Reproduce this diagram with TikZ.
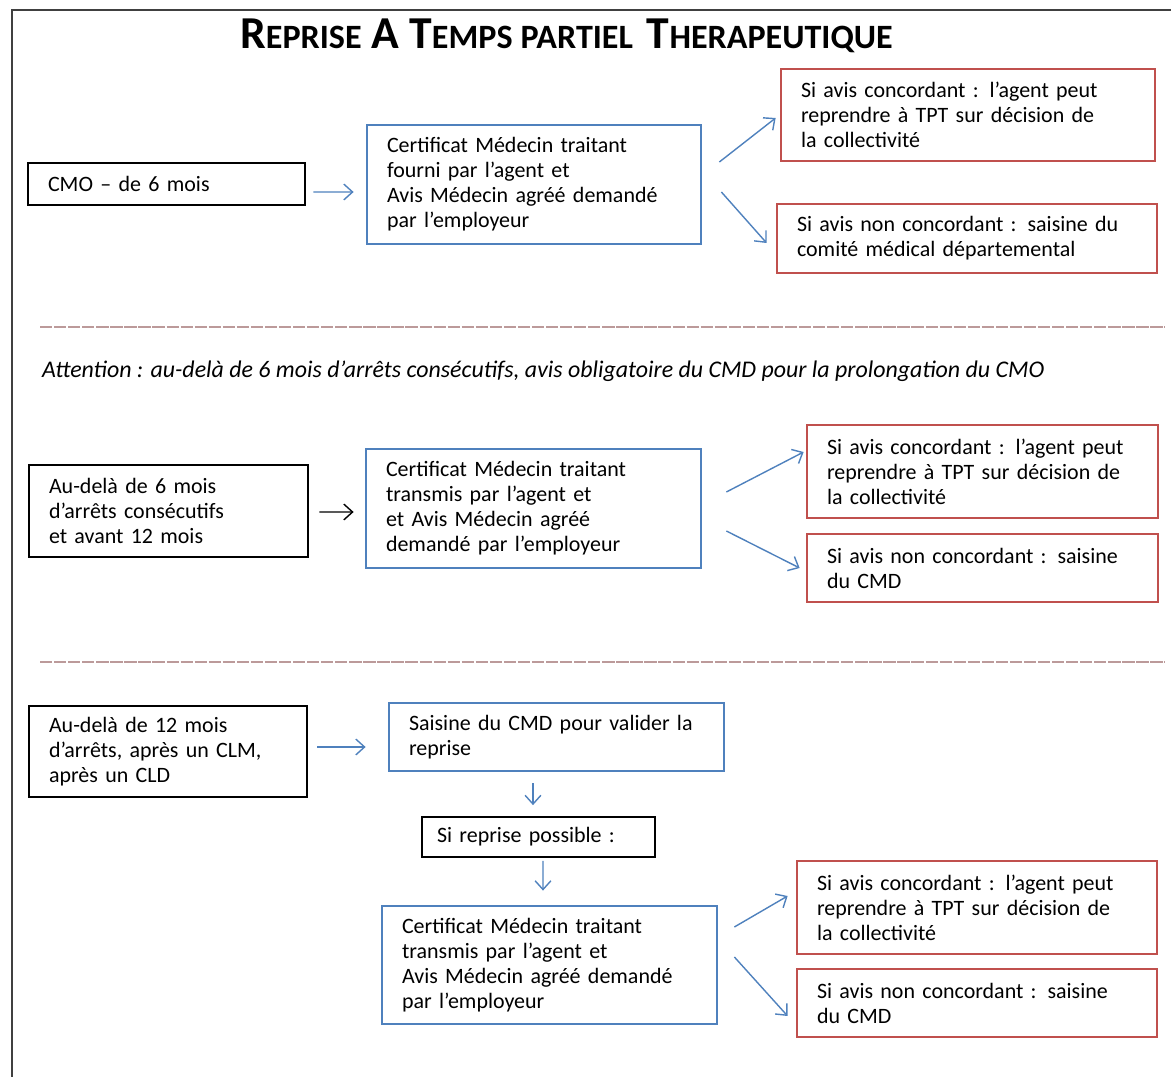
\documentclass[tikz,border=0pt]{standalone}
\usepackage{fontspec}
\setmainfont{Carlito}
\usepackage{xcolor}
\usepackage{tikz}
\usetikzlibrary{positioning, arrows.meta, calc}
\definecolor{bBlue}{HTML}{4F81BD}
\definecolor{rRed}{HTML}{C0504D}
\definecolor{fInk}{HTML}{404040}
\definecolor{dSep}{HTML}{BC9A9A}
\newcommand{\bigsc}[2]{{\fontsize{26}{26}\selectfont #1}{\fontsize{19.4}{19.4}\selectfont #2}}
\begin{document}
\begin{tikzpicture}[x=0.02cm, y=-0.02cm, >={Straight Barb[length=5pt,width=9pt]},
          box/.style={very thick, align=left, inner xsep=0.4cm, inner ysep=2pt,
            font=\fontsize{12.5}{14.2}\selectfont},
          blk/.style={box, draw=black, line width=1.6pt},
          bbox/.style={box, draw=bBlue, line width=1.6pt},
          rbox/.style={box, draw=rRed, line width=1.6pt},
          arr/.style={->, bBlue, line width=0.8pt},
          karr/.style={->, black, line width=0.8pt},
          sep/.style={dSep, line width=0.7pt, dash pattern=on 7pt off 1pt}]
        \useasboundingbox (0,0) rectangle (1171,1077);
        \draw[fInk, line width=1.3pt] (12,1077) -- (12,10) -- (1171,10);
        \node[font=\bfseries] (title) at (566.5,36)
          {\bigsc{R}{EPRISE}\hspace{0.2cm}\bigsc{A}{}\hspace{0.2cm}\bigsc{T}{EMPS}\hspace{0.16cm}\bigsc{}{PARTIEL}\hspace{0.28cm}\bigsc{T}{HERAPEUTIQUE}};
        % moins de 6 mois
        \node[blk, text width=4.74cm, minimum height=0.84cm] (cmoA) at (166.5,184) {CMO – de 6 mois};
        \node[bbox, text width=5.88cm, minimum height=2.38cm] (certA) at (534,184.5)
          {Certificat Médecin traitant\\fourni par l’agent et\\Avis Médecin agréé demandé\\par l’employeur};
        \node[rbox, text width=6.68cm, minimum height=1.84cm] (accA) at (968,115)
          {Si avis concordant : l’agent peut\\reprendre à TPT sur décision de\\la collectivité};
        \node[rbox, text width=6.8cm, minimum height=1.38cm] (refA) at (967,238.5)
          {Si avis non concordant : saisine du\\comité médical départemental};
        \draw[arr] ($(cmoA.east)+(7,8)$) -- ($(certA.west)+(-12,7.5)$);
        \draw[arr] ($(certA.east)+(17,-22.5)$) -- ($(accA.west)+(-4,3)$);
        \draw[arr] ($(certA.east)+(19,7.5)$) -- ($(refA.west)+(-9,4.5)$);
        \draw[sep] (40,327) -- (1165,327);
        \node[anchor=west, font=\itshape\fontsize{13.6}{15}\selectfont] (note) at (36,371)
          {Attention : au-delà de 6 mois d’arrêts consécutifs, avis obligatoire du CMD pour la prolongation du CMO};
        % de 6 a 12 mois
        \node[blk, text width=4.78cm, minimum height=1.84cm] (longB) at (168.5,511)
          {Au-delà de 6 mois\\d’arrêts consécutifs\\et avant 12 mois};
        \node[bbox, text width=5.9cm, minimum height=2.38cm] (certB) at (533.5,508.5)
          {Certificat Médecin traitant\\transmis par l’agent et\\et Avis Médecin agréé\\demandé par l’employeur};
        \node[rbox, text width=6.22cm, minimum height=1.86cm] (accB) at (982.5,471.5)
          {Si avis concordant : l’agent peut\\reprendre à TPT sur décision de\\la collectivité};
        \node[rbox, text width=6.22cm, minimum height=1.36cm] (refB) at (982.5,568)
          {Si avis non concordant : saisine\\du CMD};
        \draw[karr] ($(longB.east)+(10,1)$) -- ($(certB.west)+(-11,3.5)$);
        \draw[arr] ($(certB.east)+(24,-16.5)$) -- ($(accB.west)+(-2,-19.5)$);
        \draw[arr] ($(certB.east)+(24,22.5)$) -- ($(refB.west)+(-6,0)$);
        \draw[sep] (40,662) -- (1165,662);
        % au-dela de 12 mois
        \node[blk, text width=4.76cm, minimum height=1.82cm] (longC) at (168,751.5)
          {Au-delà de 12 mois\\d’arrêts, après un CLM,\\après un CLD};
        \node[bbox, text width=5.9cm, minimum height=1.36cm] (cmd) at (556.5,737)
          {Saisine du CMD pour valider la\\reprise};
        \node[box, draw=black, line width=1pt, text width=4.06cm, minimum height=0.8cm, inner xsep=0.3cm] (poss) at (538.5,837)
          {Si reprise possible :};
        \node[bbox, text width=5.9cm, minimum height=2.36cm] (certC) at (549.5,965)
          {Certificat Médecin traitant\\transmis par l’agent et\\ Avis Médecin agréé demandé\\par l’employeur};
        \node[rbox, text width=6.4cm, minimum height=1.86cm] (accC) at (977,907.5)
          {Si avis concordant : l’agent peut\\reprendre à TPT sur décision de\\la collectivité};
        \node[rbox, text width=6.4cm, minimum height=1.36cm] (refC) at (977,1003)
          {Si avis non concordant : saisine\\du CMD};
        \draw[arr] ($(longC.east)+(9,-4.5)$) -- ($(cmd.west)+(-22,10)$);
        \draw[arr] ($(cmd.south)+(-23.5,11)$) -- ($(poss.north)+(-5.5,-11)$);
        \draw[arr] ($(poss.south)+(4.5,3)$) -- ($(certC.north)+(-6.5,-14)$);
        \draw[arr] ($(certC.east)+(16,-38)$) -- ($(accC.west)+(-8,-11.5)$);
        \draw[arr] ($(certC.east)+(16,-8)$) -- ($(refC.west)+(-8,13)$);
      \end{tikzpicture}
\end{document}
